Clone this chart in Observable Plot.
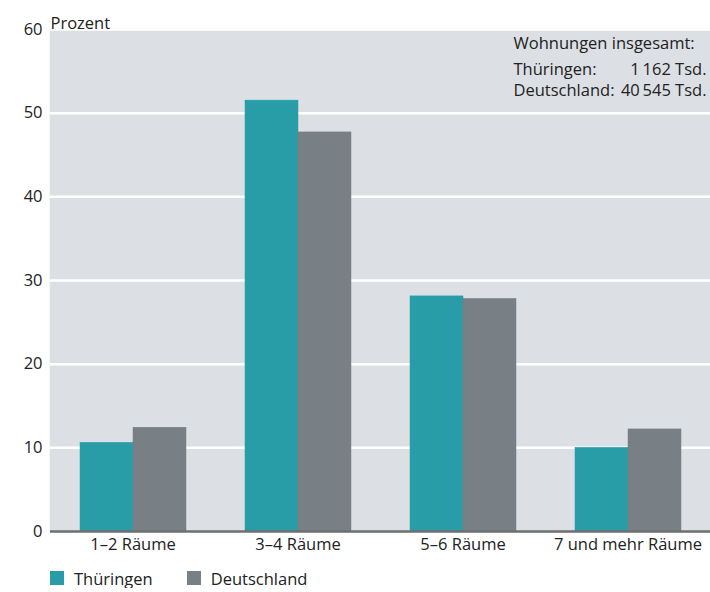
<!DOCTYPE html>
<html><head><meta charset="utf-8">
<script src="https://cdn.jsdelivr.net/npm/d3@7"></script>
<script src="https://cdn.jsdelivr.net/npm/@observablehq/plot@0.6"></script>
<style>
body{margin:0;font-family:"Open Sans",sans-serif;background:#fff;color:#222}
#legend{display:flex;align-items:center;height:20px;margin-top:8px;padding-left:50px;font-size:16.5px}
#legend .sw{display:inline-block;width:14px;height:14px;margin-right:10px}
#legend .it{display:flex;align-items:center;margin-right:34px}
</style>
</head><body><div id="chart"></div><div id="legend"></div><script>
const categories = ["1–2 Räume","3–4 Räume","5–6 Räume","7 und mehr Räume"];
const series = ["Thüringen","Deutschland"];
const thueringen = [10.6,51.5,28.1,10.0];
const deutschland = [12.4,47.7,27.8,12.2];
const yTicks = [0,10,20,30,40,50,60];
const colors = ["#289da8","#787f85"];
const totalsTitle = "Wohnungen insgesamt:";
const totalsLabels = ["Thüringen:","Deutschland:"];
const totalsValues = ["1\u2009162 Tsd.","40\u2009545 Tsd."];
const yLabel = "Prozent";

const data = [];
categories.forEach((c,i)=>{
  data.push({category:c, series:series[0], value:thueringen[i]});
  data.push({category:c, series:series[1], value:deutschland[i]});
});
const last = categories[categories.length-1];
const FS = 16.5;
const FF = "'Open Sans', sans-serif";
const rowOffsets = [40, 61.5];

const totalMarks = [
  Plot.text([last], {fx:d=>d, frameAnchor:"top-right", text:()=>totalsTitle, textAnchor:"start", lineAnchor:"middle", dx:-197, dy:14, fill:"#222", fontSize:FS})
];
totalsLabels.forEach((lab,i)=>{
  totalMarks.push(Plot.text([last], {fx:d=>d, frameAnchor:"top-right", text:()=>lab, textAnchor:"start", lineAnchor:"middle", dx:-197, dy:rowOffsets[i], fill:"#222", fontSize:FS}));
  totalMarks.push(Plot.text([last], {fx:d=>d, frameAnchor:"top-right", text:()=>totalsValues[i], textAnchor:"end", lineAnchor:"middle", dx:-4, dy:rowOffsets[i], fill:"#222", fontSize:FS}));
});

const chart = Plot.plot({
  width:710, height:560,
  marginTop:29, marginBottom:29, marginLeft:50, marginRight:0,
  style:{fontSize:FS+"px", fontFamily:FF, color:"#222", background:"#fff"},
  fx:{domain:categories, padding:0, label:null, tickSize:0, tickPadding:7, axis:"bottom"},
  x:{domain:series, paddingInner:0, paddingOuter:0.53, axis:null},
  y:{domain:[0,60], ticks:yTicks, tickSize:0, tickPadding:8, label:null},
  color:{domain:series, range:colors},
  marks:[
    Plot.frame({fill:"#dce0e4", stroke:"#dce0e4", strokeWidth:1.5}),
    Plot.ruleY(yTicks.slice(1), {stroke:"#fff", strokeWidth:2.5}),
    Plot.barY(data, {fx:"category", x:"series", y:"value", fill:"series", stroke:"series", strokeWidth:0.5}),
    Plot.ruleY([0], {stroke:"#6f6f6f", strokeWidth:2.5}),
    Plot.text([categories[0]], {fx:d=>d, frameAnchor:"top-left", text:()=>yLabel, dy:-12, textAnchor:"start", fill:"#222", fontSize:FS}),
    ...totalMarks
  ]
});
document.getElementById("chart").appendChild(chart);
const lg = document.getElementById("legend");
series.forEach((s,i)=>{
  const it = document.createElement("span"); it.className="it";
  const sw = document.createElement("span"); sw.className="sw"; sw.style.background=colors[i];
  it.appendChild(sw); it.appendChild(document.createTextNode(s)); lg.appendChild(it);
});
</script></body></html>
